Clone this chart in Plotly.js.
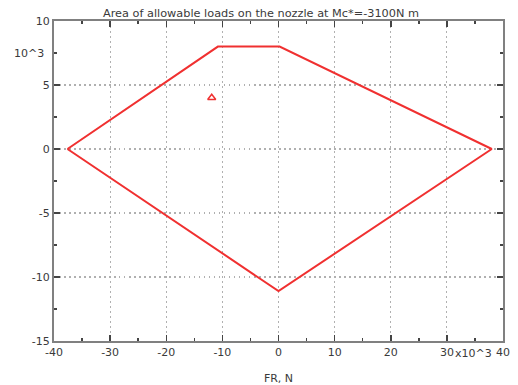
<!DOCTYPE html>
<html>
<head>
<meta charset="utf-8">
<script src="https://cdn.plot.ly/plotly-3.0.1.min.js"></script>
<style>html,body{margin:0;padding:0;background:#fff;}#plot{width:518px;height:385px;}</style>
</head>
<body>
<div id="plot"></div>
<script>
// Boundary of allowable loads (FR in 10^3 N, FT in 10^3 N)
const areaFR = [-37.6, -10.8, 0.2, 38.0, 0.0, -37.6];
const areaFT = [0.0, 8.0, 8.0, 0.0, -11.1, 0.0];
// Current load point
const pointFR = [-11.9];
const pointFT = [4.0];
// Tick labels
const xTicks = [-40, -30, -20, -10, 0, 10, 20, 30, 40];
const xTickText = ["-40", "-30", "-20", "-10", "0", "10", "20", "30", "40"];
const yTicks = [-15, -10, -5, 0, 5, 10];
const yTickText = ["-15", "-10", "-5", "0", "5", "10"];

const font = {family: "DejaVu Sans, Verdana, sans-serif", size: 11, color: "#3a3a3a"};
const axisCommon = {
  showline: true, linecolor: "#808080", linewidth: 2, mirror: "allticks",
  ticks: "inside", ticklen: 6, tickcolor: "#444", tickwidth: 1.5,
  showgrid: true, gridcolor: "#b0b0b0", griddash: "1.5px,3.5px", gridwidth: 1.2,
  zeroline: false, tickfont: font,
  minor: {ticks: "inside", ticklen: 3, tickcolor: "#444", showgrid: false}
};

const data = [
  {x: areaFR, y: areaFT, mode: "lines", type: "scatter",
   line: {color: "#f03030", width: 2}, hoverinfo: "skip"},
  {x: pointFR, y: pointFT, mode: "markers", type: "scatter",
   marker: {symbol: "triangle-up-open", size: 7, color: "#f03030", line: {width: 1.5}}}
];

const layout = {
  width: 518, height: 385,
  margin: {l: 54, r: 15, t: 21, b: 44},
  paper_bgcolor: "#fff", plot_bgcolor: "#fff",
  showlegend: false,
  font: font,
  title: {text: "Area of allowable loads on the nozzle at Mc*=-3100N m",
          font: {family: "DejaVu Sans, Verdana, sans-serif", size: 11.3, color: "#3a3a3a"},
          xref: "paper", x: 0.461, xanchor: "center",
          yref: "container", y: 0.966, yanchor: "middle"},
  xaxis: Object.assign({}, axisCommon, {
    range: [-40, 40], tickmode: "array", tickvals: xTicks, ticktext: xTickText,
    minor: Object.assign({}, axisCommon.minor, {dtick: 5}),
    title: {text: "FR, N", font: font, standoff: 20}
  }),
  yaxis: Object.assign({}, axisCommon, {
    range: [-15, 10], tickmode: "array", tickvals: yTicks, ticktext: yTickText,
    minor: Object.assign({}, axisCommon.minor, {dtick: 2.5})
  }),
  annotations: [
    {text: "10^3", xref: "paper", yref: "y", x: 0, y: 7.5, xanchor: "right",
     xshift: -8, showarrow: false, font: font},
    {text: "x10^3", xref: "x", yref: "paper", x: 31.3, y: 0, xanchor: "left",
     yanchor: "top", yshift: -4, xshift: -1, showarrow: false, font: font}
  ]
};

Plotly.newPlot("plot", data, layout, {displayModeBar: false, staticPlot: true});
</script>
</body>
</html>
